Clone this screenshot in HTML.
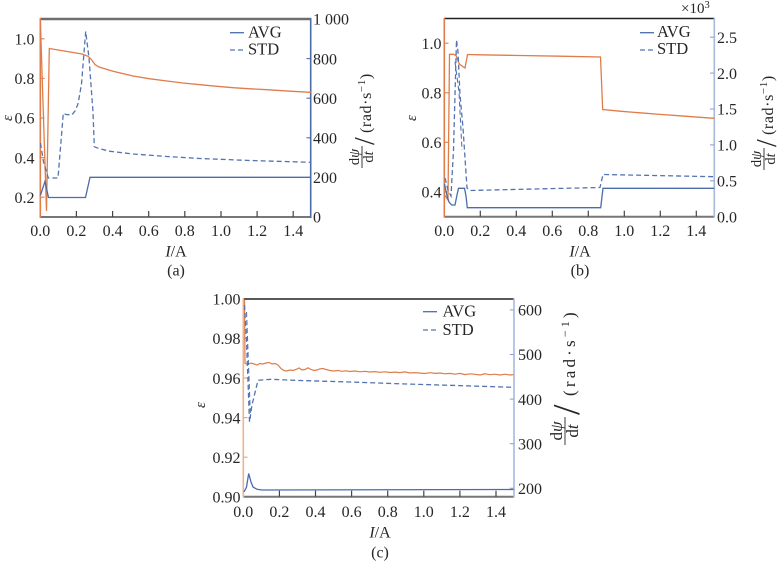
<!DOCTYPE html>
<html><head><meta charset="utf-8"><style>
html,body{margin:0;padding:0;background:#fff;}
svg{display:block;}
text{font-family:"Liberation Serif",serif;fill:#262626;}
</style></head><body>
<svg width="779" height="563" viewBox="0 0 779 563" xmlns="http://www.w3.org/2000/svg" font-family="'Liberation Serif', serif">
<!-- ================= PANEL A ================= -->
<g>
<line x1="40.3" y1="19" x2="310.7" y2="19" stroke="#6e6e6e" stroke-width="2.4"/>
<line x1="40.3" y1="217" x2="310.7" y2="217" stroke="#777" stroke-width="2"/>
<line x1="40.3" y1="18" x2="40.3" y2="218" stroke="#df7d4a" stroke-width="1.6"/>
<line x1="310.7" y1="18" x2="310.7" y2="218" stroke="#4b6cab" stroke-width="1.6"/>
<g stroke="#444" stroke-width="1.2">
<line x1="76.4" y1="217" x2="76.4" y2="211"/><line x1="112.6" y1="217" x2="112.6" y2="211"/>
<line x1="148.7" y1="217" x2="148.7" y2="211"/><line x1="184.8" y1="217" x2="184.8" y2="211"/>
<line x1="221" y1="217" x2="221" y2="211"/><line x1="257.1" y1="217" x2="257.1" y2="211"/>
<line x1="293.2" y1="217" x2="293.2" y2="211"/>
</g>
<g stroke="#4b6cab" stroke-width="1.1">
<line x1="310.7" y1="177.4" x2="306.5" y2="177.4"/><line x1="310.7" y1="137.8" x2="306.5" y2="137.8"/>
<line x1="310.7" y1="98.2" x2="306.5" y2="98.2"/><line x1="310.7" y1="58.6" x2="306.5" y2="58.6"/>
</g>
<g stroke="#df7d4a" stroke-width="1.1">
<line x1="40.3" y1="197.2" x2="44.5" y2="197.2"/><line x1="40.3" y1="157.6" x2="44.5" y2="157.6"/>
<line x1="40.3" y1="118" x2="44.5" y2="118"/><line x1="40.3" y1="78.4" x2="44.5" y2="78.4"/>
<line x1="40.3" y1="38.8" x2="44.5" y2="38.8"/>
</g>
<path d="M40.3,19 L46.5,211 L49.3,48.5 L82,54 L88,56.3 L91,59 L95,64.5 L99,67 L113,71.3 L133,76 L150,78.8 L167,81 L183,83 L200,84.7 L217,86.3 L233,87.7 L250,88.8 L267,89.7 L290,91.2 L311,92.3" fill="none" stroke="#df7d4a" stroke-width="1.3"/>
<path d="M40.5,195 L45,181.5 L48.5,197.5 L85.5,197.5 L90,177.3 L310.7,177.3" fill="none" stroke="#4b6cab" stroke-width="1.3"/>
<path d="M40.5,143 L43.5,162 L48.3,178 L58,178 L63.3,113.3 L66,114.5 L71.7,115 L75,111 L78,104 L81.5,84 L85.7,31.5 L89,58 L93,112 L94.3,146.7 L98.3,148.3 L110,151.3 L133,154 L167,156.5 L200,158.5 L250,160.5 L310.7,162.3" fill="none" stroke="#5573b0" stroke-width="1.3" stroke-dasharray="5,3"/>
<line x1="230" y1="32.7" x2="244" y2="32.7" stroke="#4b6cab" stroke-width="1.3"/>
<line x1="230" y1="50" x2="244" y2="50" stroke="#5573b0" stroke-width="1.3" stroke-dasharray="5,3"/>
<text x="248" y="37.5" font-size="16.5">AVG</text>
<text x="248" y="54.5" font-size="16.5">STD</text>
<g font-size="16" text-anchor="end">
<text x="34.5" y="203">0.2</text><text x="34.5" y="163.3">0.4</text><text x="34.5" y="123.7">0.6</text>
<text x="34.5" y="84.1">0.8</text><text x="34.5" y="44.5">1.0</text>
</g>
<g font-size="16">
<text x="313" y="222.7">0</text><text x="313" y="183.1">200</text><text x="313" y="143.5">400</text>
<text x="313" y="103.9">600</text><text x="313" y="64.3">800</text><text x="313" y="24.7">1 000</text>
</g>
<g font-size="16" text-anchor="middle">
<text x="40.3" y="236">0.0</text><text x="76.4" y="236">0.2</text><text x="112.6" y="236">0.4</text>
<text x="148.7" y="236">0.6</text><text x="184.8" y="236">0.8</text><text x="221" y="236">1.0</text>
<text x="257.1" y="236">1.2</text><text x="293.2" y="236">1.4</text>
<text x="176" y="256.5"><tspan font-style="italic">I</tspan>/A</text>
<text x="176" y="275.5">(a)</text>
</g>
<text transform="translate(12,118) rotate(-90)" font-size="15" font-style="italic" text-anchor="middle">ε</text>
<g transform="translate(362,169) rotate(-90)">
<text x="12" y="-3" font-size="14.5" text-anchor="middle">d<tspan font-style="italic">ψ</tspan></text>
<line x1="1" y1="0" x2="23" y2="0" stroke="#262626" stroke-width="0.9"/>
<text x="12" y="11" font-size="14.5" text-anchor="middle">d<tspan font-style="italic">t</tspan></text>
<text x="24" y="12" font-size="28">/</text>
<text x="36" y="9" font-size="16" letter-spacing="0.6">(rad·s<tspan font-size="11" dy="-6">−1</tspan><tspan dy="6">)</tspan></text>
</g>
</g>

<!-- ================= PANEL B ================= -->
<g>
<line x1="444.3" y1="18.5" x2="714.3" y2="18.5" stroke="#222" stroke-width="1.4"/>
<line x1="444.3" y1="216.7" x2="714.3" y2="216.7" stroke="#777" stroke-width="2"/>
<line x1="444.3" y1="18" x2="444.3" y2="217.5" stroke="#df7d4a" stroke-width="1.6"/>
<line x1="714.3" y1="18" x2="714.3" y2="217.5" stroke="#a9b9da" stroke-width="1.6"/>
<g stroke="#444" stroke-width="1.2">
<line x1="480.3" y1="216.7" x2="480.3" y2="210.7"/><line x1="516.3" y1="216.7" x2="516.3" y2="210.7"/>
<line x1="552.3" y1="216.7" x2="552.3" y2="210.7"/><line x1="588.3" y1="216.7" x2="588.3" y2="210.7"/>
<line x1="624.3" y1="216.7" x2="624.3" y2="210.7"/><line x1="660.3" y1="216.7" x2="660.3" y2="210.7"/>
<line x1="696.3" y1="216.7" x2="696.3" y2="210.7"/>
</g>
<g stroke="#8ea3cf" stroke-width="1.1">
<line x1="714.3" y1="180.8" x2="710" y2="180.8"/><line x1="714.3" y1="144.9" x2="710" y2="144.9"/>
<line x1="714.3" y1="109" x2="710" y2="109"/><line x1="714.3" y1="73.1" x2="710" y2="73.1"/>
<line x1="714.3" y1="37.2" x2="710" y2="37.2"/>
</g>
<g stroke="#df7d4a" stroke-width="1.1">
<line x1="444.3" y1="191.9" x2="448.5" y2="191.9"/><line x1="444.3" y1="142.3" x2="448.5" y2="142.3"/>
<line x1="444.3" y1="92.8" x2="448.5" y2="92.8"/><line x1="444.3" y1="43.2" x2="448.5" y2="43.2"/>
</g>
<path d="M444.5,195 L448,200 L449.5,54.3 L453.5,54.3 L456,55.5 L459.3,64 L465,68 L467.5,54.5 L480,54.8 L520,55.5 L560,56.2 L600.5,57 L602.7,109.5 L620,111.2 L640,112.8 L660,114.4 L680,115.8 L700,117.3 L714.3,118.3" fill="none" stroke="#df7d4a" stroke-width="1.3"/>
<path d="M444.5,184 L447,196 L449,202 L451.7,205 L455,205 L457,195 L458.5,188.3 L464.5,188.3 L466,196 L467.3,207.7 L600.7,207.7 L603,188.3 L714.3,188.3" fill="none" stroke="#4b6cab" stroke-width="1.3"/>
<path d="M445,178 L448,190 L451,196 L453.5,150 L456.5,40 L458,52 L460,95 L463,128 L467,188 L470,190.5 L600,187.5 L603,174.5 L714.3,176.7" fill="none" stroke="#5573b0" stroke-width="1.3" stroke-dasharray="5,3"/>
<path d="M455,62 L459,92 L462,150" fill="none" stroke="#5573b0" stroke-width="1.1" stroke-dasharray="5,3"/>
<line x1="640" y1="32.7" x2="654" y2="32.7" stroke="#4b6cab" stroke-width="1.3"/>
<line x1="640" y1="50" x2="654" y2="50" stroke="#5573b0" stroke-width="1.3" stroke-dasharray="5,3"/>
<text x="657" y="37" font-size="16.5">AVG</text>
<text x="657" y="54" font-size="16.5">STD</text>
<g font-size="16" text-anchor="end">
<text x="441.5" y="197.6">0.4</text><text x="441.5" y="148">0.6</text>
<text x="441.5" y="98.5">0.8</text><text x="441.5" y="48.9">1.0</text>
</g>
<g font-size="16">
<text x="717" y="222.4">0.0</text><text x="717" y="186.5">0.5</text><text x="717" y="150.6">1.0</text>
<text x="717" y="114.7">1.5</text><text x="717" y="78.8">2.0</text><text x="717" y="42.9">2.5</text>
</g>
<text x="681" y="13" font-size="15">×10<tspan font-size="10.5" dy="-5">3</tspan></text>
<g font-size="16" text-anchor="middle">
<text x="444.3" y="236">0.0</text><text x="480.3" y="236">0.2</text><text x="516.3" y="236">0.4</text>
<text x="552.3" y="236">0.6</text><text x="588.3" y="236">0.8</text><text x="624.3" y="236">1.0</text>
<text x="660.3" y="236">1.2</text><text x="696.3" y="236">1.4</text>
<text x="580" y="256.5"><tspan font-style="italic">I</tspan>/A</text>
<text x="580" y="275.5">(b)</text>
</g>
<text transform="translate(416,118) rotate(-90)" font-size="15" font-style="italic" text-anchor="middle">ε</text>
<g transform="translate(764,171) rotate(-90)">
<text x="12" y="-3" font-size="14.5" text-anchor="middle">d<tspan font-style="italic">ψ</tspan></text>
<line x1="1" y1="0" x2="23" y2="0" stroke="#262626" stroke-width="0.9"/>
<text x="12" y="11" font-size="14.5" text-anchor="middle">d<tspan font-style="italic">t</tspan></text>
<text x="24" y="12" font-size="28">/</text>
<text x="36" y="9" font-size="16" letter-spacing="0.6">(rad·s<tspan font-size="11" dy="-6">−1</tspan><tspan dy="6">)</tspan></text>
</g>
</g>

<!-- ================= PANEL C ================= -->
<g>
<line x1="243.3" y1="299" x2="514" y2="299" stroke="#222" stroke-width="1.4"/>
<line x1="243.3" y1="496.7" x2="514" y2="496.7" stroke="#777" stroke-width="2"/>
<line x1="243.3" y1="298.5" x2="243.3" y2="497.5" stroke="#efb48c" stroke-width="1.6"/>
<line x1="514" y1="298.5" x2="514" y2="497.5" stroke="#a9b9da" stroke-width="1.6"/>
<g stroke="#444" stroke-width="1.2">
<line x1="279.4" y1="496.7" x2="279.4" y2="490.7"/><line x1="315.5" y1="496.7" x2="315.5" y2="490.7"/>
<line x1="351.6" y1="496.7" x2="351.6" y2="490.7"/><line x1="387.7" y1="496.7" x2="387.7" y2="490.7"/>
<line x1="423.8" y1="496.7" x2="423.8" y2="490.7"/><line x1="459.9" y1="496.7" x2="459.9" y2="490.7"/>
<line x1="496" y1="496.7" x2="496" y2="490.7"/>
</g>
<g stroke="#8ea3cf" stroke-width="1.1">
<line x1="514" y1="488.3" x2="509.8" y2="488.3"/><line x1="514" y1="443.7" x2="509.8" y2="443.7"/>
<line x1="514" y1="399.1" x2="509.8" y2="399.1"/><line x1="514" y1="354.5" x2="509.8" y2="354.5"/>
<line x1="514" y1="309.9" x2="509.8" y2="309.9"/>
</g>
<g stroke="#e6a27a" stroke-width="1.1">
<line x1="243.3" y1="457.2" x2="247.5" y2="457.2"/><line x1="243.3" y1="417.6" x2="247.5" y2="417.6"/>
<line x1="243.3" y1="378.1" x2="247.5" y2="378.1"/><line x1="243.3" y1="338.5" x2="247.5" y2="338.5"/>
</g>
<path d="M244.5,300 L245,363.5 L248,364.5 L251,363 L254,364 L257,365 L260,363.5 L263,364 L266,363 L269,362.5 L272,364 L275,363.5 L278,365 L281,368.5 L284,370.5 L287,371 L290,370 L293,370.5 L296,369.5 L299,368 L302,370 L305,369.5 L308,367.8 L311,369.5 L314,370.5 L317,370 L320,368.8 L323,368.5 L326,369.5 L330,370.5 L334,371 L338,370.5 L342,371.3 L346,370.8 L350,371.5 L355,371 L360,371.8 L365,371.3 L370,372 L375,371.6 L380,372.3 L385,371.8 L390,372.5 L395,372.1 L400,372.6 L405,371.9 L410,373 L415,372.6 L420,373.1 L425,373.5 L430,372.7 L435,373.4 L440,373 L445,373.8 L450,373.4 L455,374.2 L460,373.4 L465,374.6 L470,373.8 L475,374.3 L480,375 L485,373.8 L490,374.7 L495,374.2 L500,375 L505,374.2 L510,375 L513.5,374.6" fill="none" stroke="#df7d4a" stroke-width="1.2"/>
<path d="M244,492 L246.5,487 L248.7,473.5 L251,482 L253,487 L257,489.3 L262,490 L513.5,489.5" fill="none" stroke="#4b6cab" stroke-width="1.3"/>
<path d="M244.5,305 L246.5,340 L249.5,422 L252,405 L258,380.3 L271,379.3 L300,380.5 L350,382 L400,383.8 L450,385.3 L513.5,387.3" fill="none" stroke="#5573b0" stroke-width="1.3" stroke-dasharray="5,3"/>
<path d="M246.5,312 L250.5,418" fill="none" stroke="#5573b0" stroke-width="1.1" stroke-dasharray="5,3"/>
<line x1="423" y1="311.7" x2="437" y2="311.7" stroke="#4b6cab" stroke-width="1.3"/>
<line x1="423" y1="330" x2="437" y2="330" stroke="#5573b0" stroke-width="1.3" stroke-dasharray="5,3"/>
<text x="442.5" y="316.7" font-size="16.5">AVG</text>
<text x="442.5" y="335" font-size="16.5">STD</text>
<g font-size="16" text-anchor="end">
<text x="240.5" y="502.4">0.90</text><text x="240.5" y="462.9">0.92</text><text x="240.5" y="423.3">0.94</text>
<text x="240.5" y="383.8">0.96</text><text x="240.5" y="344.2">0.98</text><text x="240.5" y="304.7">1.00</text>
</g>
<g font-size="16">
<text x="518" y="494">200</text><text x="518" y="449.4">300</text><text x="518" y="404.8">400</text>
<text x="518" y="360.2">500</text><text x="518" y="315.6">600</text>
</g>
<g font-size="16" text-anchor="middle">
<text x="243.3" y="517">0.0</text><text x="279.4" y="517">0.2</text><text x="315.5" y="517">0.4</text>
<text x="351.6" y="517">0.6</text><text x="387.7" y="517">0.8</text><text x="423.8" y="517">1.0</text>
<text x="459.9" y="517">1.2</text><text x="496" y="517">1.4</text>
<text x="380" y="537.5"><tspan font-style="italic">I</tspan>/A</text>
<text x="380" y="557.5">(c)</text>
</g>
<text transform="translate(205,405) rotate(-90)" font-size="15" font-style="italic" text-anchor="middle">ε</text>
<g transform="translate(565,446) rotate(-90)">
<text x="15" y="-3" font-size="17" text-anchor="middle">d<tspan font-style="italic">ψ</tspan></text>
<line x1="1" y1="0" x2="29" y2="0" stroke="#262626" stroke-width="0.9"/>
<text x="15" y="13" font-size="17" text-anchor="middle">d<tspan font-style="italic">t</tspan></text>
<text x="31" y="14" font-size="38">/</text>
<text x="50" y="10" font-size="17" letter-spacing="3.2">(rad·s<tspan font-size="12" dy="-6">−1</tspan><tspan dy="6">)</tspan></text>
</g>
</g>
</svg>
</body></html>
